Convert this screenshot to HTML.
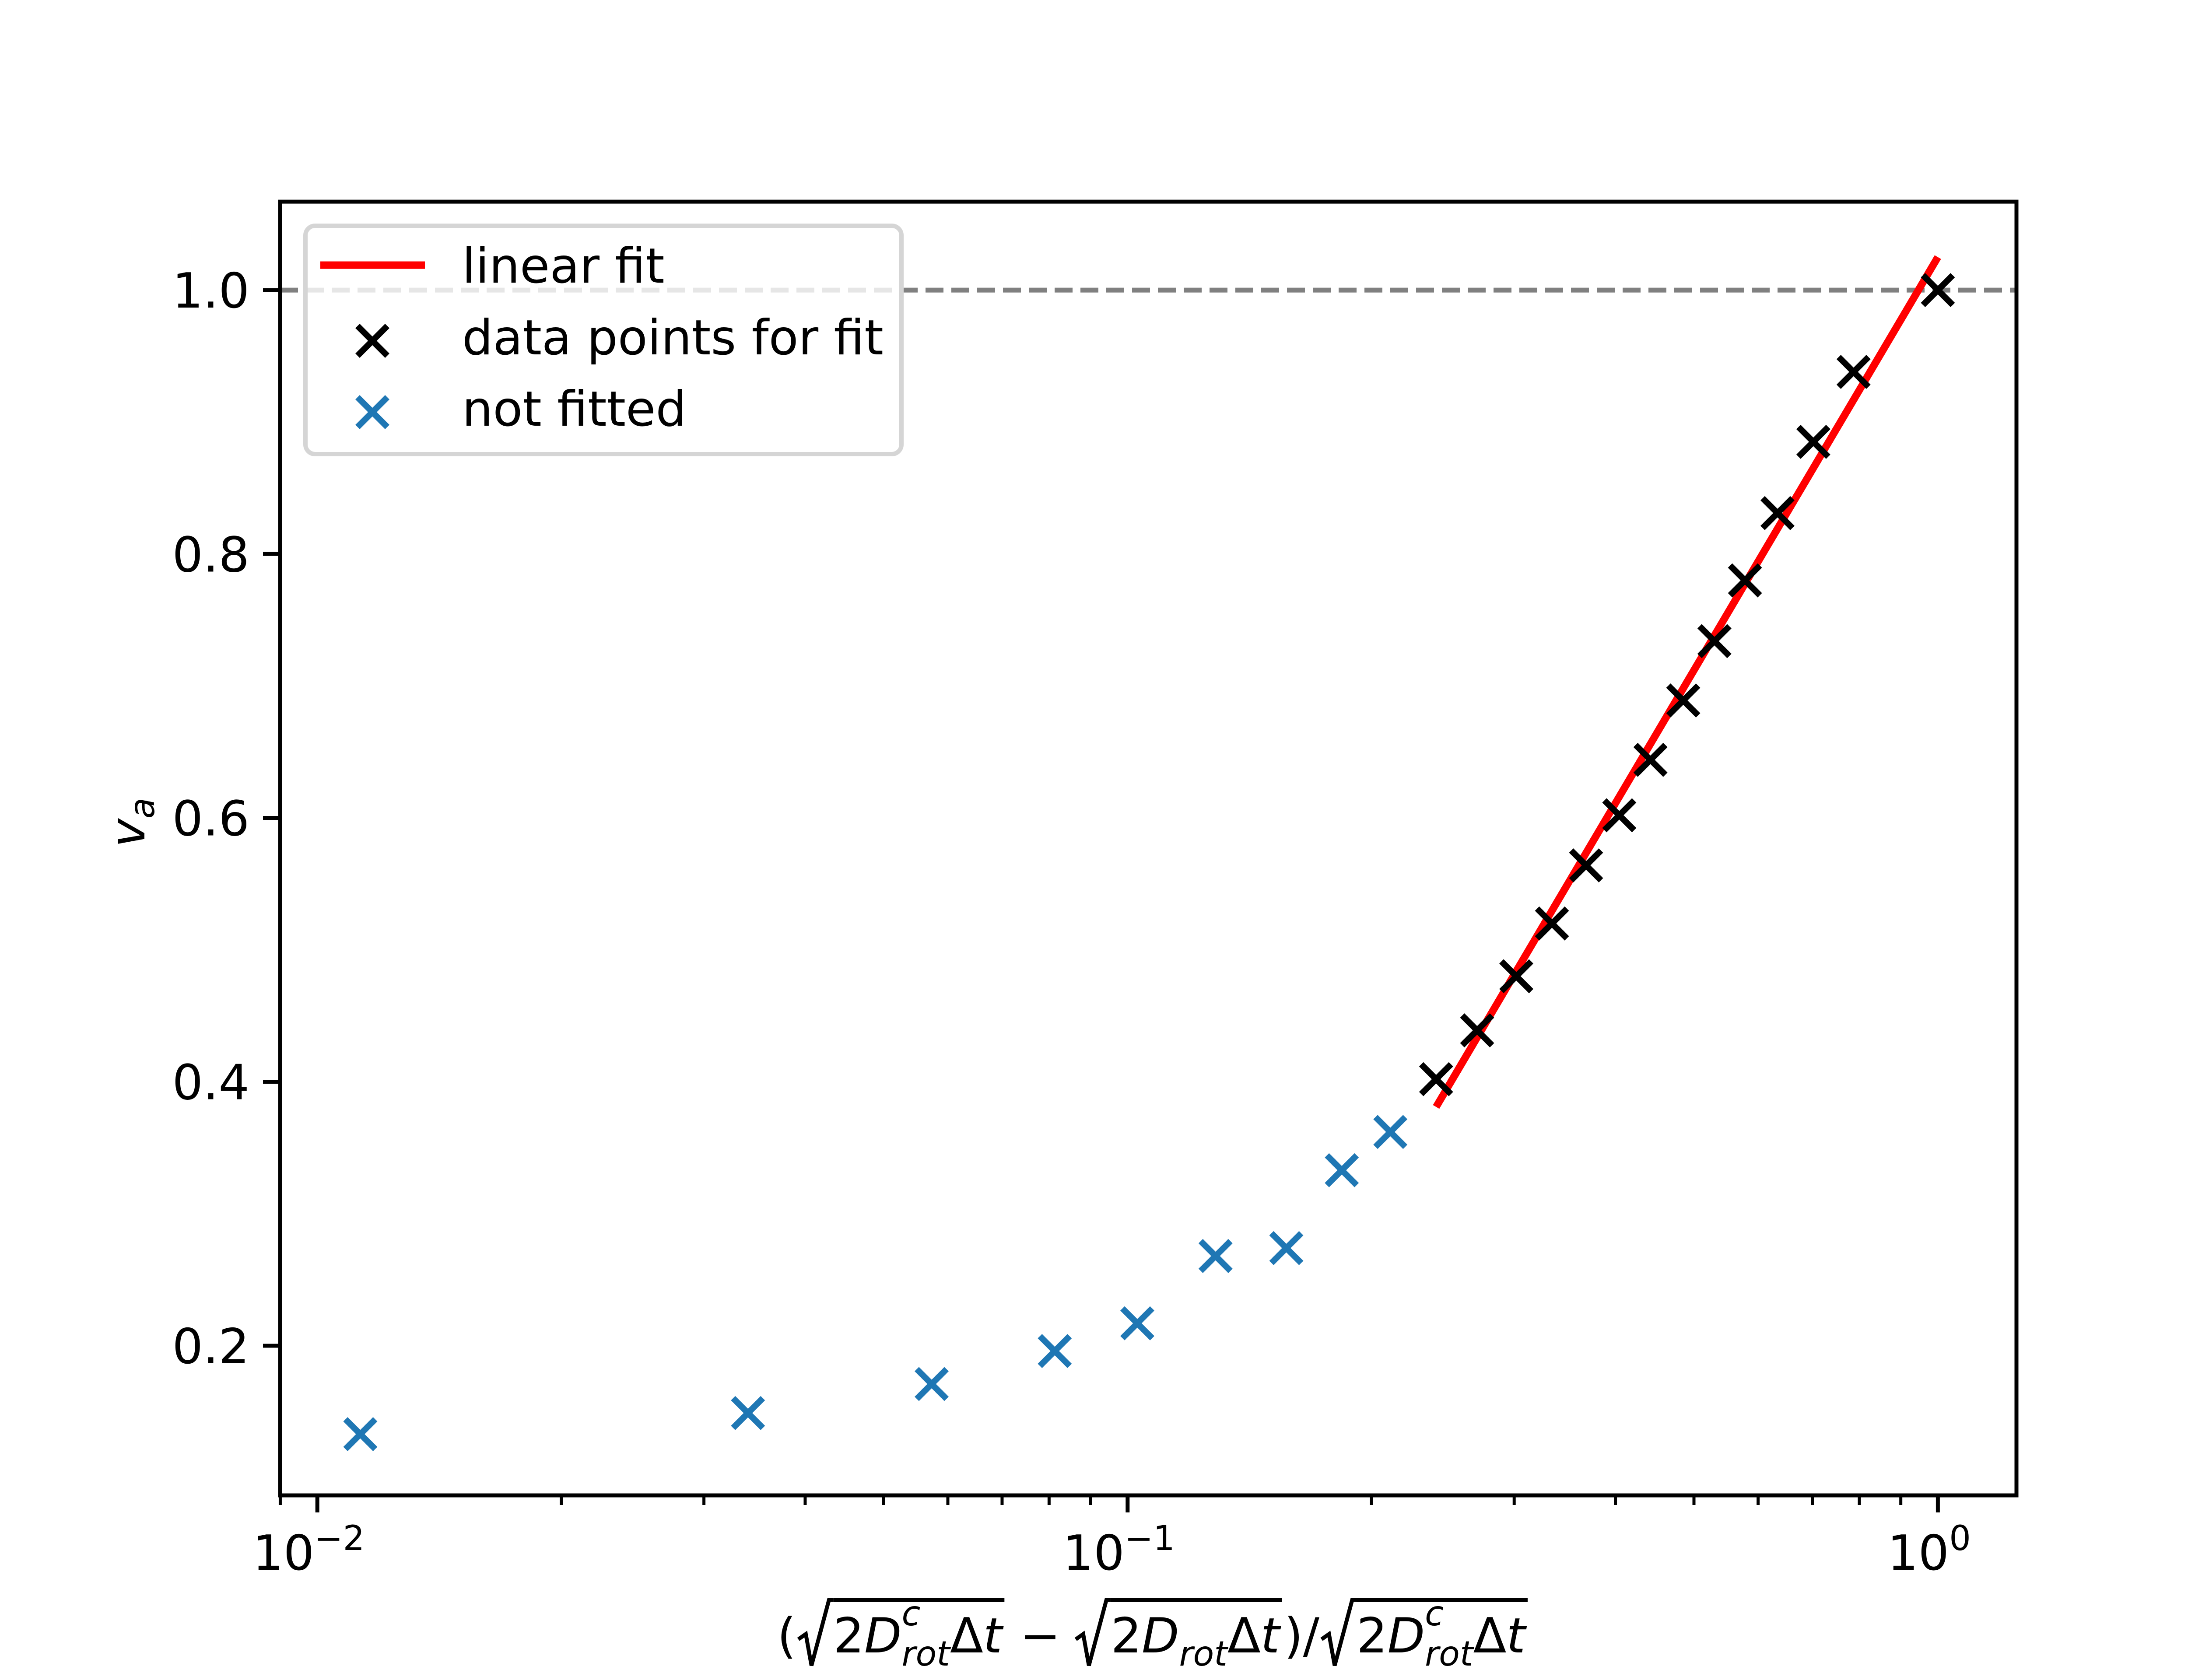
<!DOCTYPE html>
<html><head><meta charset="utf-8"><style>
html,body{margin:0;padding:0;background:#fff}
svg{display:block}
text{font-family:"DejaVu Sans","Liberation Sans",sans-serif;fill:#000;white-space:pre}
</style></head><body>
<svg id="chart" width="5120" height="3840" viewBox="0 0 5120 3840" xmlns="http://www.w3.org/2000/svg">
<rect width="5120" height="3840" fill="#fff"/>
<g id="marks"></g>
<g id="axes"></g>
<g id="legend">
  <rect x="698" y="516" width="1362" height="522" rx="22" fill="#fff" fill-opacity="0.8" stroke="#d5d5d5" stroke-width="10"/>
  <line x1="732" y1="606" x2="971" y2="606" stroke="#ff0000" stroke-width="17"/>
  <text x="1056" y="646" font-size="111">linear fit</text>
  <g stroke="#000" stroke-width="14"><line x1="817" y1="745" x2="885" y2="813"/><line x1="817" y1="813" x2="885" y2="745"/></g>
  <text x="1056" y="810" font-size="111">data points for fit</text>
  <g stroke="#1f77b4" stroke-width="14"><line x1="817" y1="908" x2="885" y2="976"/><line x1="817" y1="976" x2="885" y2="908"/></g>
  <text x="1056" y="973" font-size="111">not fitted</text>
</g>
<text x="330" y="1880" font-size="111" font-style="italic" transform="rotate(-90 330 1880)" text-anchor="middle">v<tspan font-size="78" dy="22">a</tspan></text>
<g id="xlabel"></g>
</svg>
<script>
const blueX = [0.0113, 0.0340, 0.0573, 0.0813, 0.1028, 0.1284, 0.157, 0.1838, 0.211];
const blueY = [0.133, 0.149, 0.171, 0.196, 0.217, 0.268, 0.274, 0.333, 0.362];
const blackX = [0.2403, 0.270, 0.3018, 0.334, 0.368, 0.4044, 0.4419, 0.485, 0.530, 0.578, 0.634, 0.702, 0.787, 1.0];
const blackY = [0.402, 0.439, 0.480, 0.520, 0.564, 0.602, 0.644, 0.689, 0.734, 0.780, 0.831, 0.885, 0.938, 1.0];
const fitIntercept = [1.025];
const fitSlope = [1.04];
const fitRange = [0.2403, 1.0];
const refLine = [1.0];
const yTicks = [0.2, 0.4, 0.6, 0.8, 1.0];
const yTickLabels = ["0.2", "0.4", "0.6", "0.8", "1.0"];
const xTicks = [-2, -1, 0];
const xTickLabels = ["−2", "−1", "0"];

const L=640,R=4608,T=461,B=3418;
const xLogMin=-2.046, xLogMax=0.097, yMin=0.0866, yMax=1.067;
const NS="http://www.w3.org/2000/svg";
function xs(v){return L+(Math.log10(v)-xLogMin)/(xLogMax-xLogMin)*(R-L);}
function xl(lg){return L+(lg-xLogMin)/(xLogMax-xLogMin)*(R-L);}
function ys(v){return B-(v-yMin)/(yMax-yMin)*(B-T);}
function mk(tag,attrs,parent){const e=document.createElementNS(NS,tag);for(const k in attrs)e.setAttribute(k,attrs[k]);parent.appendChild(e);return e;}
const marks=document.getElementById('marks'), axes=document.getElementById('axes');

let rl=mk('line',{x1:L,x2:R,y1:ys(refLine[0]),y2:ys(refLine[0]),stroke:'#808080','stroke-width':11,'stroke-dasharray':'41 18'},marks);



let fl=mk('line',{x1:xs(fitRange[0]),y1:ys(fitIntercept[0]+fitSlope[0]*Math.log10(fitRange[0])),x2:xs(fitRange[1]),y2:ys(fitIntercept[0]+fitSlope[0]*Math.log10(fitRange[1])),stroke:'#ff0000','stroke-width':17},marks);



function cross(x,y,col,name){
  const g=mk('g',{stroke:col,'stroke-width':14},marks);
  
  
  const h=34;
  mk('line',{x1:x-h,y1:y-h,x2:x+h,y2:y+h},g);
  mk('line',{x1:x-h,y1:y+h,x2:x+h,y2:y-h},g);
}
blueX.forEach((v,i)=>cross(xs(v),ys(blueY[i]),'#1f77b4','not-fitted-point'));
blackX.forEach((v,i)=>cross(xs(v),ys(blackY[i]),'#000','fit-data-point'));

let fr=mk('rect',{x:L,y:T,width:R-L,height:B-T,fill:'none',stroke:'#000','stroke-width':9},axes);



yTicks.forEach((v,i)=>{
  const y=ys(v);
  let t=mk('line',{x1:L-39,x2:L,y1:y,y2:y,stroke:'#000','stroke-width':9},axes);
  
  
  let lb=mk('text',{x:L-70,y:y+40,'font-size':111,'text-anchor':'end'},axes);
  lb.textContent=yTickLabels[i];
  
  
});
xTicks.forEach((lg,i)=>{
  const x=xl(lg);
  let t=mk('line',{x1:x,x2:x,y1:B,y2:B+39,stroke:'#000','stroke-width':9},axes);
  
  
  let lb=mk('text',{x:x-20,y:B+170,'font-size':111,'text-anchor':'middle'},axes);
  lb.textContent='10';
  
  
  let sp=mk('tspan',{'font-size':78,dy:-45},lb);
  sp.textContent=xTickLabels[i];
});
for(let d=-3; d<=0; d++){
  for(let m=2;m<=9;m++){
    const lg=d+Math.log10(m);
    if(lg<xLogMin||lg>xLogMax) continue;
    const x=xl(lg);
    let t=mk('line',{x1:x,x2:x,y1:B,y2:B+22,stroke:'#000','stroke-width':7},axes);
    
    
  }
}

const xg=document.getElementById('xlabel');
const base=3777;
let cur=0;
function tok(s,it,size,dy){
  const e=mk('text',{x:cur,y:base+(dy||0),'font-size':size||111},xg);
  if(it) e.setAttribute('font-style','italic');
  e.textContent=s;
  const w=e.getComputedTextLength();
  return [e,w];
}
function put(s,it){const r=tok(s,it);cur+=r[1];}
function gap(w){cur+=w;}
function stack(sup,sub){
  const a=tok(sup,true,78,-62), b=tok(sub,true,78,30);
  cur+=Math.max(a[1],b[1]);
}
function radicand(withC){
  put('2',false); put('D',true);
  if(withC) stack('c','rot'); else {const r=tok('rot',true,78,30);cur+=r[1];}
  put('Δ',false); put('t',true);
}
function radical(fn){
  const x0=cur;
  mk('polyline',{points:`${x0+5},${base-30} ${x0+22},${base-42} ${x0+35},${base+30} ${x0+75},${base-120} ${x0+85},${base-120}`,fill:'none',stroke:'#000','stroke-width':9},xg);
  cur+=85;
  const s=cur;
  fn();
  mk('line',{x1:s,x2:cur+5,y1:base-120,y2:base-120,stroke:'#000','stroke-width':10},xg);
  cur+=10;
}
put('(',false);
radical(()=>radicand(true));
gap(30); put('−',false); gap(30);
radical(()=>radicand(false));
put(')/',false);
radical(()=>radicand(true));
const total=cur;
xg.setAttribute('transform',`translate(${2636-total/2},0)`);
</script>
</body></html>
